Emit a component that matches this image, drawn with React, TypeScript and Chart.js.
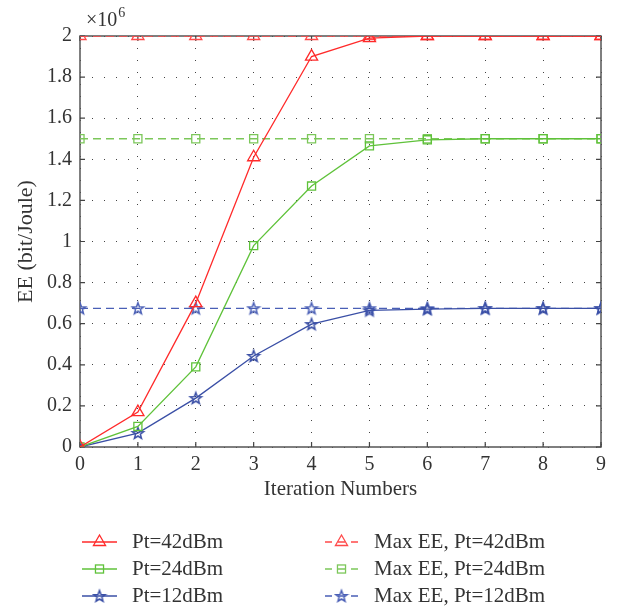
import React, { useEffect, useRef } from 'react';
import { Chart, registerables } from 'chart.js';

Chart.register(...registerables);

// ---- data (EE in units of 10^6 bit/Joule) ----
const iterations = [0, 1, 2, 3, 4, 5, 6, 7, 8, 9];
const ee42 = [0, 0.17, 0.70, 1.41, 1.90, 1.99, 2.0, 2.0, 2.0, 2.0];
const ee24 = [0, 0.10, 0.39, 0.98, 1.27, 1.465, 1.495, 1.5, 1.5, 1.5];
const ee12 = [0, 0.068, 0.238, 0.443, 0.598, 0.665, 0.671, 0.675, 0.675, 0.675];
const maxEE42 = [2.0, 2.0, 2.0, 2.0, 2.0, 2.0, 2.0, 2.0, 2.0, 2.0];
const maxEE24 = [1.5, 1.5, 1.5, 1.5, 1.5, 1.5, 1.5, 1.5, 1.5, 1.5];
const maxEE12 = [0.675, 0.675, 0.675, 0.675, 0.675, 0.675, 0.675, 0.675, 0.675, 0.675];

const seriesLabels = [
  'Pt=42dBm',
  'Pt=24dBm',
  'Pt=12dBm',
  'Max EE, Pt=42dBm',
  'Max EE, Pt=24dBm',
  'Max EE, Pt=12dBm',
];
const xTickValues = [0, 1, 2, 3, 4, 5, 6, 7, 8, 9];
const yTickValues = [0, 0.2, 0.4, 0.6, 0.8, 1, 1.2, 1.4, 1.6, 1.8, 2];
const xTitle = 'Iteration Numbers';
const yTitle = 'EE (bit/Joule)';
const exponentBase = '×10';
const exponentPower = '6';

const FONT = "'Liberation Serif', 'Times New Roman', serif";
const RED = '#ff2a2a';
const RED_D = '#ff4a4a';
const GREEN = '#5fc23a';
const GREEN_D = '#7cc75a';
const BLUE = '#3a4fa6';
const BLUE_D = '#4a5fb6';

function makeStar(color: string, r: number): HTMLCanvasElement {
  const size = Math.ceil(r * 2 + 4);
  const c = document.createElement('canvas');
  c.width = size;
  c.height = size;
  const ctx = c.getContext('2d')!;
  ctx.strokeStyle = color;
  ctx.lineWidth = 1.5;
  ctx.lineJoin = 'miter';
  ctx.beginPath();
  for (let i = 0; i < 10; i++) {
    const rad = i % 2 === 0 ? r : r * 0.42;
    const a = -Math.PI / 2 + (i * Math.PI) / 5;
    const x = size / 2 + rad * Math.cos(a);
    const y = size / 2 + 0.5 + rad * Math.sin(a);
    if (i === 0) ctx.moveTo(x, y);
    else ctx.lineTo(x, y);
  }
  ctx.closePath();
  ctx.stroke();
  return c;
}

function drawMarker(ctx: CanvasRenderingContext2D, style: any, x: number, y: number, r: number, color: string, bw: number) {
  ctx.save();
  ctx.strokeStyle = color;
  ctx.lineWidth = bw;
  if (style === 'triangle') {
    ctx.beginPath();
    let rad = 0;
    ctx.moveTo(x + Math.sin(rad) * r, y - Math.cos(rad) * r);
    rad += (2 * Math.PI) / 3;
    ctx.lineTo(x + Math.sin(rad) * r, y - Math.cos(rad) * r);
    rad += (2 * Math.PI) / 3;
    ctx.lineTo(x + Math.sin(rad) * r, y - Math.cos(rad) * r);
    ctx.closePath();
    ctx.stroke();
  } else if (style === 'rect') {
    const s = Math.SQRT1_2 * r;
    ctx.strokeRect(x - s, y - s, 2 * s, 2 * s);
  } else if (style instanceof HTMLCanvasElement) {
    ctx.drawImage(style, x - style.width / 2, y - style.height / 2);
  }
  ctx.restore();
}

const boxPlugin = {
  id: 'boxPlugin',
  beforeDatasetsDraw(chart: any) {
    const { ctx, chartArea } = chart;
    const { left, right, top, bottom } = chartArea;
    const xs = chart.scales.x;
    const ys = chart.scales.y;
    ctx.save();
    ctx.strokeStyle = '#555';
    ctx.lineWidth = 1.5;
    ctx.strokeRect(left, top, right - left, bottom - top);
    ctx.lineWidth = 1.2;
    ctx.strokeStyle = '#444';
    const tl = 5;
    ctx.beginPath();
    xs.ticks.forEach((t: any) => {
      const px = xs.getPixelForValue(t.value);
      ctx.moveTo(px, bottom);
      ctx.lineTo(px, bottom - tl);
      ctx.moveTo(px, top);
      ctx.lineTo(px, top + tl);
    });
    ys.ticks.forEach((t: any) => {
      const py = ys.getPixelForValue(t.value);
      ctx.moveTo(left, py);
      ctx.lineTo(left + tl, py);
      ctx.moveTo(right, py);
      ctx.lineTo(right - tl, py);
    });
    ctx.stroke();
    ctx.restore();
  },
  afterDraw(chart: any) {
    const { ctx, chartArea } = chart;
    ctx.save();
    ctx.fillStyle = '#333';
    ctx.textBaseline = 'alphabetic';
    ctx.textAlign = 'left';
    ctx.font = `20px ${FONT}`;
    const x0 = chartArea.left + 6;
    ctx.fillText(exponentBase, x0, 26);
    const w = ctx.measureText(exponentBase).width;
    ctx.font = `14px ${FONT}`;
    ctx.fillText(exponentPower, x0 + w + 1, 17);

    // legend
    const datasets = chart.data.datasets;
    datasets.forEach((ds: any, i: number) => {
      const col = i < 3 ? 0 : 1;
      const row = i % 3;
      const y = 542 + row * 27;
      ctx.save();
      ctx.strokeStyle = ds.borderColor;
      ctx.lineWidth = ds.borderWidth;
      let mx: number;
      let tx: number;
      if (col === 0) {
        ctx.beginPath();
        ctx.moveTo(82, y);
        ctx.lineTo(117, y);
        ctx.stroke();
        mx = 99.5;
        tx = 132;
      } else {
        ctx.beginPath();
        ctx.moveTo(325, y);
        ctx.lineTo(332, y);
        ctx.moveTo(338, y);
        ctx.lineTo(345, y);
        ctx.moveTo(351, y);
        ctx.lineTo(358, y);
        ctx.stroke();
        mx = 341.5;
        tx = 374;
      }
      ctx.restore();
      drawMarker(ctx, ds.pointStyle, mx, y, ds.pointRadius, ds.pointBorderColor, ds.pointBorderWidth);
      ctx.fillStyle = '#333';
      ctx.font = `21px ${FONT}`;
      ctx.textBaseline = 'middle';
      ctx.textAlign = 'left';
      ctx.fillText(ds.label, tx, y);
    });
    ctx.restore();
  },
};

export default function App() {
  const canvasRef = useRef<HTMLCanvasElement | null>(null);

  useEffect(() => {
    const canvas = canvasRef.current;
    if (!canvas) return;
    const starSolid = makeStar(BLUE, 6);
    const starDash = makeStar(BLUE_D, 6);
    const toPts = (arr: number[]) => iterations.map((x, i) => ({ x, y: arr[i] }));

    const mk = (label: string, data: number[], color: string, style: any, radius: number, dashed: boolean) => ({
      label,
      data: toPts(data),
      borderColor: color,
      backgroundColor: 'rgba(0,0,0,0)',
      borderWidth: 1.3,
      borderDash: dashed ? [8, 5] : [],
      pointStyle: style,
      pointRadius: radius,
      pointHoverRadius: radius,
      pointBorderColor: color,
      pointBackgroundColor: 'rgba(0,0,0,0)',
      pointBorderWidth: 1.3,
      tension: 0,
      fill: false,
    });

    const chart = new Chart(canvas, {
      type: 'line',
      data: {
        datasets: [
          mk(seriesLabels[0], ee42, RED, 'triangle', 7, false),
          mk(seriesLabels[1], ee24, GREEN, 'rect', 5.7, false),
          mk(seriesLabels[2], ee12, BLUE, starSolid, 6, false),
          mk(seriesLabels[3], maxEE42, RED_D, 'triangle', 7, true),
          mk(seriesLabels[4], maxEE24, GREEN_D, 'rect', 5.7, true),
          mk(seriesLabels[5], maxEE12, BLUE_D, starDash, 6, true),
        ] as any,
      },
      options: {
        responsive: false,
        animation: false,
        devicePixelRatio: 1,
        layout: { padding: { left: 0, top: 36, right: 18, bottom: 100 } },
        plugins: {
          legend: { display: false },
          tooltip: { enabled: false },
          title: { display: false },
        },
        scales: {
          x: {
            type: 'linear',
            min: 0,
            max: 9,
            afterBuildTicks: (s: any) => {
              s.ticks = xTickValues.map((v) => ({ value: v }));
            },
            afterFit: (s: any) => {
              s.height = 62;
            },
            ticks: {
              padding: 6,
              color: '#333',
              font: { family: FONT, size: 20 },
              callback: (v: any) => String(v),
            },
            grid: {
              color: '#444',
              lineWidth: 1,
              drawTicks: false,
            },
            border: { display: false, dash: [1, 11] },
            title: {
              display: true,
              text: xTitle,
              color: '#333',
              font: { family: FONT, size: 21 },
              padding: { top: 0, bottom: 7 },
            },
          },
          y: {
            type: 'linear',
            min: 0,
            max: 2,
            afterBuildTicks: (s: any) => {
              s.ticks = yTickValues.map((v) => ({ value: v }));
            },
            afterFit: (s: any) => {
              s.width = 80;
            },
            ticks: {
              padding: 8,
              color: '#333',
              font: { family: FONT, size: 20 },
              callback: (v: any) => String(Number(Number(v).toFixed(1))),
            },
            grid: {
              color: '#444',
              lineWidth: 1,
              drawTicks: false,
            },
            border: { display: false, dash: [1, 11] },
            title: {
              display: true,
              text: yTitle,
              color: '#333',
              font: { family: FONT, size: 22 },
              padding: { top: 13, bottom: 0 },
            },
          },
        },
      } as any,
      plugins: [boxPlugin],
    });
    return () => chart.destroy();
  }, []);

  return (
    <div style={{ position: 'fixed', left: 0, top: 0, width: 619, height: 609, background: '#fff' }}>
      <canvas ref={canvasRef} width={619} height={609} style={{ display: 'block' }} />
    </div>
  );
}
